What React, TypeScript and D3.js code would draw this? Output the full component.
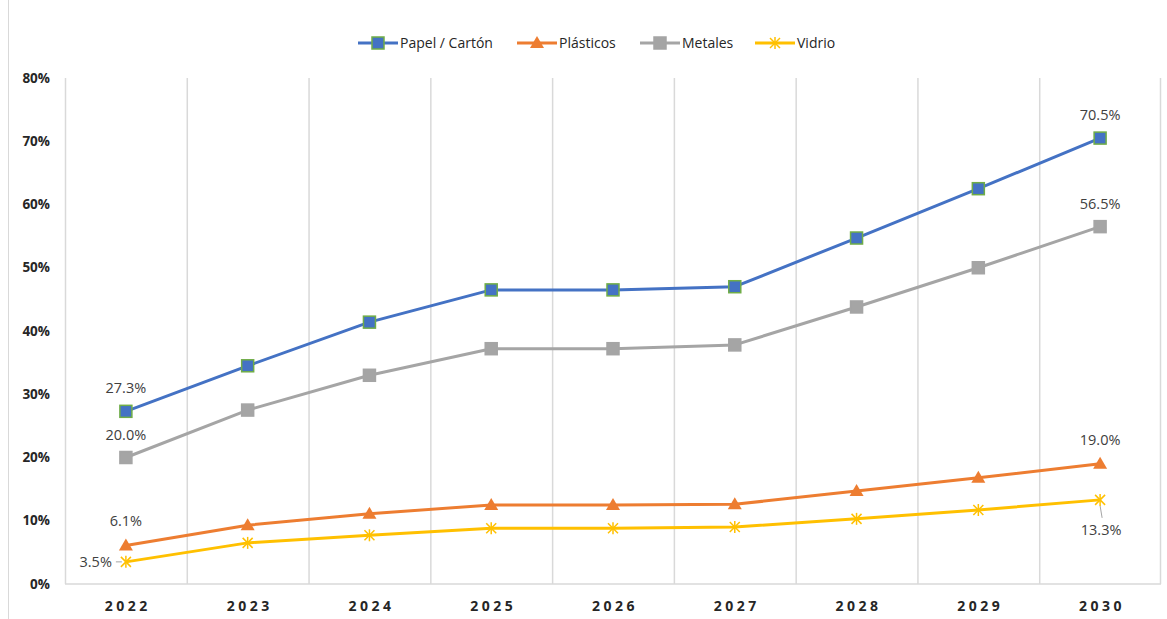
import React from "react";
import * as d3 from "d3";

const years = ["2022", "2023", "2024", "2025", "2026", "2027", "2028", "2029", "2030"];
const papel = [27.3, 34.5, 41.4, 46.5, 46.5, 47.0, 54.7, 62.5, 70.5];
const plasticos = [6.1, 9.3, 11.1, 12.5, 12.5, 12.6, 14.7, 16.8, 19.0];
const metales = [20.0, 27.5, 33.0, 37.2, 37.2, 37.8, 43.8, 50.0, 56.5];
const vidrio = [3.5, 6.5, 7.7, 8.8, 8.8, 9.0, 10.3, 11.7, 13.3];
const yTicks = [0, 10, 20, 30, 40, 50, 60, 70, 80];

const series = [
  { name: "Papel / Cartón", values: papel, color: "#4472C4", marker: "square", stroke: "#70AD47" },
  { name: "Plásticos", values: plasticos, color: "#ED7D31", marker: "triangle", stroke: "#ED7D31" },
  { name: "Metales", values: metales, color: "#A5A5A5", marker: "square", stroke: "#A5A5A5" },
  { name: "Vidrio", values: vidrio, color: "#FFC000", marker: "star", stroke: "#FFC000" },
];

const W = 1167, H = 619;
const L = 65, R = 1161, T = 78, B = 584;

function Marker({ type, x, y, color, stroke }: any) {
  if (type === "square") {
    return <rect x={x - 6} y={y - 6} width={12} height={12} fill={color} stroke={stroke} strokeWidth={1.5} />;
  }
  if (type === "triangle") {
    return <path d={`M${x},${y - 7}L${x + 7},${y + 5}L${x - 7},${y + 5}Z`} fill={color} />;
  }
  const s = 5;
  return (
    <g stroke={color} strokeWidth={1.5}>
      <line x1={x - s} y1={y - s} x2={x + s} y2={y + s} />
      <line x1={x - s} y1={y + s} x2={x + s} y2={y - s} />
      <line x1={x} y1={y - s - 1} x2={x} y2={y + s + 1} />
    </g>
  );
}

export default function App() {
  const x = d3.scaleBand().domain(years).range([L, R]);
  const y = d3.scaleLinear().domain([0, 80]).range([B, T]);
  const cx = (yr: string) => (x(yr) as number) + x.bandwidth() / 2;
  const line = d3.line<number>().x((_, i) => cx(years[i])).y((v) => y(v));
  const font = "'Open Sans', 'Noto Sans', sans-serif";

  const legendItems = [
    { s: series[0], lx: 358 },
    { s: series[1], lx: 517 },
    { s: series[2], lx: 640 },
    { s: series[3], lx: 755 },
  ];

  const first = years[0], last = years[years.length - 1];
  const n = years.length - 1;

  return (
    <svg width={W} height={H} style={{ position: "absolute", left: 0, top: 0 }} fontFamily={font}>
      <rect x={0} y={0} width={W} height={H} fill="#fff" />
      <line x1={8.5} y1={0} x2={8.5} y2={H} stroke="#D9D9D9" />
      {/* gridlines */}
      {years.map((yr) => (
        <line key={yr} x1={(x(yr) as number) + 0.5} x2={(x(yr) as number) + 0.5} y1={T} y2={B} stroke="#D9D9D9" strokeWidth={1.5} />
      ))}
      <line x1={R - 0.5} x2={R - 0.5} y1={T} y2={B} stroke="#D9D9D9" strokeWidth={1.5} />
      <line x1={L} x2={R} y1={B} y2={B} stroke="#D9D9D9" strokeWidth={1.5} />
      {/* y ticks */}
      {yTicks.map((t) => (
        <text key={t} x={50} y={y(t)} dy="0.35em" textAnchor="end" fontSize={13.5} fontWeight="bold" fill="#262626">
          {t}%
        </text>
      ))}
      {/* x ticks */}
      {years.map((yr) => (
        <text key={yr} x={cx(yr) + 2} y={611} textAnchor="middle" fontSize={14} fontWeight="bold" fill="#262626" letterSpacing="3.5px">
          {yr}
        </text>
      ))}
      {/* lines */}
      {series.map((s) => (
        <path key={s.name} d={line(s.values) || ""} fill="none" stroke={s.color} strokeWidth={3} strokeLinejoin="round" />
      ))}
      {series.map((s) =>
        s.values.map((v, i) => (
          <Marker key={s.name + i} type={s.marker} x={cx(years[i])} y={y(v)} color={s.color} stroke={s.stroke} />
        ))
      )}
      {/* data labels */}
      <g fontSize={14.5} fill="#404040" textAnchor="middle">
        <text x={cx(first)} y={y(papel[0]) - 18}>{papel[0].toFixed(1)}%</text>
        <text x={cx(first)} y={y(metales[0]) - 18}>{metales[0].toFixed(1)}%</text>
        <text x={cx(first)} y={y(plasticos[0]) - 19}>{plasticos[0].toFixed(1)}%</text>
        <text x={cx(first) - 14} y={y(vidrio[0])} dy="0.35em" textAnchor="end">{vidrio[0].toFixed(1)}%</text>
        <line x1={cx(first) - 10} x2={cx(first) - 4} y1={y(vidrio[0])} y2={y(vidrio[0])} stroke="#A5A5A5" strokeWidth={1} />
        <text x={cx(last)} y={y(papel[n]) - 18}>{papel[n].toFixed(1)}%</text>
        <text x={cx(last)} y={y(metales[n]) - 18}>{metales[n].toFixed(1)}%</text>
        <text x={cx(last)} y={y(plasticos[n]) - 19}>{plasticos[n].toFixed(1)}%</text>
        <text x={cx(last) + 1} y={y(vidrio[n]) + 35}>{vidrio[n].toFixed(1)}%</text>
        <line x1={cx(last)} x2={cx(last) + 2} y1={y(vidrio[n]) + 6} y2={y(vidrio[n]) + 18} stroke="#A5A5A5" strokeWidth={1} />
      </g>
      {/* legend */}
      {legendItems.map(({ s, lx }) => (
        <g key={s.name}>
          <line x1={lx} x2={lx + 40} y1={43} y2={43} stroke={s.color} strokeWidth={3} />
          <Marker type={s.marker} x={lx + 20} y={43} color={s.color} stroke={s.stroke} />
          <text x={lx + 42} y={43} dy="0.35em" fontSize={14} fill="#262626">{s.name}</text>
        </g>
      ))}
    </svg>
  );
}
